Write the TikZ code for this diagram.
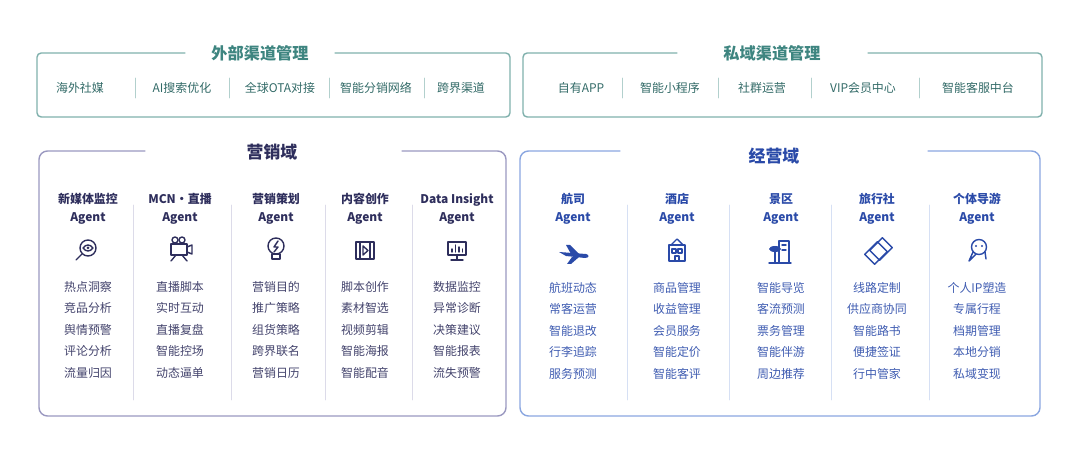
\documentclass[tikz,border=0pt]{standalone}
\usepackage{fontspec}
\setmainfont{Noto Sans CJK SC}
\usetikzlibrary{positioning}
\definecolor{chgreen}{HTML}{3E8580}
\definecolor{chline}{HTML}{7FB0AC}
\definecolor{mknavy}{HTML}{2E2E5C}
\definecolor{mkline}{HTML}{9A98C0}
\definecolor{opblue}{HTML}{2A4AA8}
\definecolor{opline}{HTML}{8AA6E0}
\begin{document}
\begin{tikzpicture}[x=0.025cm,y=-0.025cm,line cap=round]
% Styles
\tikzset{
  chan title/.style={font=\fontsize{11.5}{12}\selectfont\bfseries,text=chgreen},
  chan item/.style={font=\fontsize{8.5}{10}\selectfont,text=chgreen!80!black},
  dom title/.style={font=\fontsize{12}{13}\selectfont\bfseries},
  agent head/.style={font=\fontsize{8.5}{13}\selectfont\bfseries,align=center},
  agent item/.style={font=\fontsize{8.5}{10}\selectfont},
  icon/.style={line width=1pt,line join=round},
}
\useasboundingbox (0,0) rectangle (1080,458);

% channel boxes
\draw[chline,line width=1pt,rounded corners=3pt] (185,53) -- (37,53) -- (37,117) -- (510,117) -- (510,53) -- (335,53);
\node[chan title] (ext) at (260,53) {外部渠道管理};
\draw[chline,line width=1pt,rounded corners=3pt] (677,53) -- (523,53) -- (523,117) -- (1042,117) -- (1042,53) -- (868,53);
\node[chan title] (prv) at (772,53) {私域渠道管理};

\foreach \x/\t in {80/海外社媒,182/AI搜索优化,280/全球OTA对接,376/智能分销网络,461/跨界渠道,
                   581/自有APP,670/智能小程序,762/社群运营,863/VIP会员中心,978/智能客服中台}
  \node[chan item] (ch\x) at (\x,88) {\t};
\foreach \x in {135,229,329,424,622,718,811,919}
  \draw[chline!60,line width=0.6pt] (\x,78) -- (\x,98);

% domain boxes
\draw[mkline,line width=1pt,rounded corners=6pt] (145,151) -- (39,151) -- (39,416) -- (506,416) -- (506,151) -- (402,151);
\node[dom title,text=mknavy] (mk) at (272,152) {营销域};
\draw[opline,line width=1pt,rounded corners=6pt] (620,151) -- (520,151) -- (520,416) -- (1040,416) -- (1040,151) -- (928,151);
\node[dom title,text=opblue] (op) at (774,156) {经营域};

\foreach \x in {133,231,325,412}
  \draw[mkline!35,line width=0.6pt] (\x,205) -- (\x,400);
\foreach \x in {627,729,831,929}
  \draw[opline!35,line width=0.6pt] (\x,205) -- (\x,400);

% marketing agents
\foreach \x/\h/\a/\b/\c/\d/\e in {
  88/新媒体监控/热点洞察/竞品分析/舆情预警/评论分析/流量归因,
  180/MCN·直播/直播脚本/实时互动/直播复盘/智能控场/动态逼单,
  276/营销策划/营销目的/推广策略/组货策略/跨界联名/营销日历,
  365/内容创作/脚本创作/素材智选/视频剪辑/智能海报/智能配音,
  457/Data Insight/数据监控/异常诊断/决策建议/智能报表/流失预警} {
  \node[agent head,text=mknavy] (mh\x) at (\x,209) {\h\\Agent};
  \foreach \t [count=\i] in {\a,\b,\c,\d,\e}
    \node[agent item,text=mknavy!90] (mi\x-\i) at (\x,265+21.5*\i) {\t};
}

% operations agents
\foreach \x/\h/\a/\b/\c/\d/\e in {
  573/航司/航班动态/常客运营/智能退改/行李追踪/服务预测,
  677/酒店/商品管理/收益管理/会员服务/智能定价/智能客评,
  781/景区/智能导览/客流预测/票务管理/智能伴游/周边推荐,
  877/旅行社/线路定制/供应商协同/智能路书/便捷签证/行中管家,
  977/个体导游/个人IP塑造/专属行程/档期管理/本地分销/私域变现} {
  \node[agent head,text=opblue] (oh\x) at (\x,209) {\h\\Agent};
  \foreach \t [count=\i] in {\a,\b,\c,\d,\e}
    \node[agent item,text=opblue!90] (oi\x-\i) at (\x,266+21.5*\i) {\t};
}

% icons, marketing
\begin{scope}[icon,mknavy]
  \draw (88,248) circle (8); \draw (83,248) .. controls (86,244) and (90,244) .. (93,248) .. controls (90,252) and (86,252) .. (83,248);
  \draw (82,254) -- (76,260); \fill (88,248) circle (1.5);
  \draw (171,244) rectangle (187,255); \draw (187,247) -- (192,245) -- (192,254) -- (187,252);
  \draw (175,240) circle (3); \draw (182,240) circle (3); \draw (176,255) -- (171,261); \draw (182,255) -- (187,261);
  \draw (276,246) circle (8); \draw (272,254) rectangle (280,259); \draw (278,241) -- (274,247) -- (278,247) -- (274,252);
  \draw (356,242) rectangle (374,259); \draw (360,242) -- (360,259); \draw (370,242) -- (370,259);
  \draw (363,246) -- (363,255) -- (368,250.5) -- cycle;
  \draw (448,242) rectangle (466,255); \draw (457,255) -- (457,260); \draw (451,260) -- (463,260);
  \draw (452,252) -- (452,249); \draw (455.5,252) -- (455.5,245); \draw (459,252) -- (459,247); \draw (462.5,252) -- (462.5,249);
\end{scope}
% icons, operations
\begin{scope}[icon,opblue]
  \fill (559,252) -- (586,254) .. controls (590,255) and (589,258) .. (585,258) -- (566,256) -- (559,252);
  \fill (571,254) -- (566,245) -- (570,245) -- (579,254); \fill (572,257) -- (567,264) -- (571,264) -- (579,257);
  \draw (669,245) rectangle (685,261); \draw (671,245) -- (677,239) -- (683,245); \draw (672,249) rectangle (676,253);
  \draw (678,249) rectangle (682,253); \draw (675,261) -- (675,256) -- (679,256) -- (679,261);
  \draw (779,241) rectangle (789,263); \draw (782,245) -- (786,245); \draw (782,250) -- (786,250);
  \draw (775,263) -- (775,250); \fill (775,249) ellipse (6 and 3); \draw (769,263) -- (791,263);
  \draw[rotate around={45:(876,253)}] (867,246) rectangle (885,260); \draw[rotate around={45:(881,249)}] (872,242) rectangle (890,256);
  \draw (979,247) circle (7.5); \fill (976,246) circle (1.2); \fill (982,246) circle (1.2);
  \draw (973,252) -- (969,261) -- (976,254); \draw (985,252) -- (986,259);
\end{scope}
\end{tikzpicture}
\end{document}
